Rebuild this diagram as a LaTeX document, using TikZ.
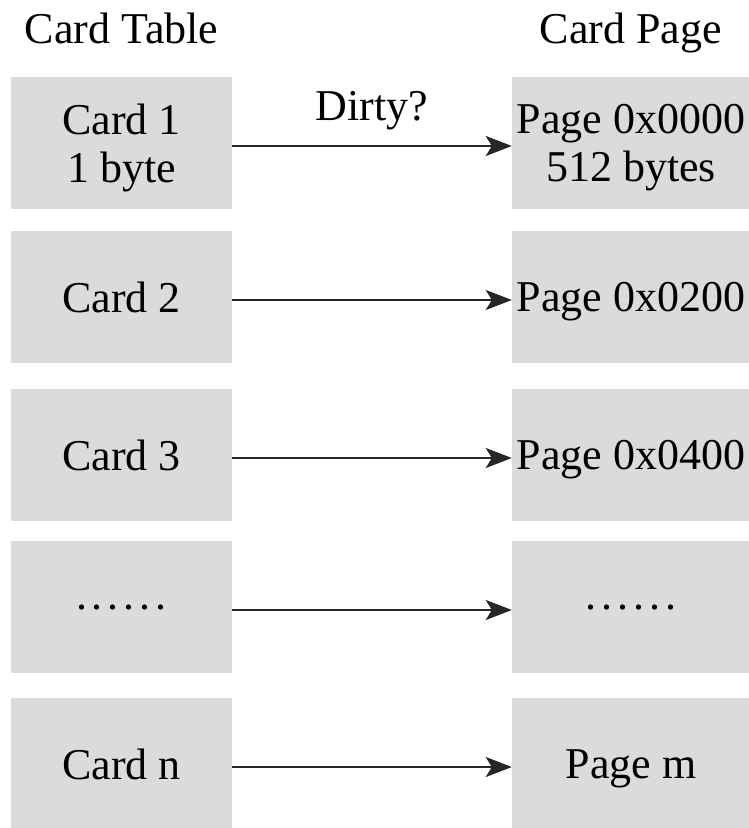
\documentclass[tikz,border=0pt]{standalone}
\usepackage{fontspec}
\setmainfont{Liberation Serif}
\usetikzlibrary{arrows.meta}
\definecolor{cardgray}{RGB}{217,219,221}
\newcommand\carddots{.\kern5pt.\kern5pt.\kern5pt.\kern5pt.\kern5pt.}
\tikzset{
  cardbox/.style={fill=cardgray, minimum height=132pt, inner sep=0pt, align=center, text depth=0pt},
  dirtyarrow/.style={-{Stealth[length=26pt,width=20pt,inset=6pt]}, line width=2pt, draw=black!85}
}
\begin{document}
\begin{tikzpicture}[x=1pt, y=-1pt, font=\fontsize{44}{48}\selectfont]
\useasboundingbox (0,0) rectangle (748,828);
\node[anchor=base] (tabletitle) at (121.5,43) {Card Table};
\node[anchor=base] (pagetitle) at (631,43) {Card Page};
% one row per card, arrow card -> page
\foreach \n/\y/\card/\page in {1/143/{Card 1\\1 byte}/{Page 0x0000\\512 bytes},
  2/297/{Card 2}/{Page 0x0200}, 3/455/{Card 3}/{Page 0x0400},
  4/607/{\carddots}/{\carddots}, 5/764/{Card n}/{Page m}}
{
  \node[cardbox, minimum width=221pt] (card\n) at (121.5,\y) {\card};
  \node[cardbox, minimum width=238pt] (page\n) at (631,\y) {\page};
  \draw[dirtyarrow] ([yshift=-3pt]card\n.east) -- ([yshift=-3pt]page\n.west);
}
\path (card1) -- (page1) node[midway, above=9pt] (dirty) {Dirty?};
\end{tikzpicture}
\end{document}
